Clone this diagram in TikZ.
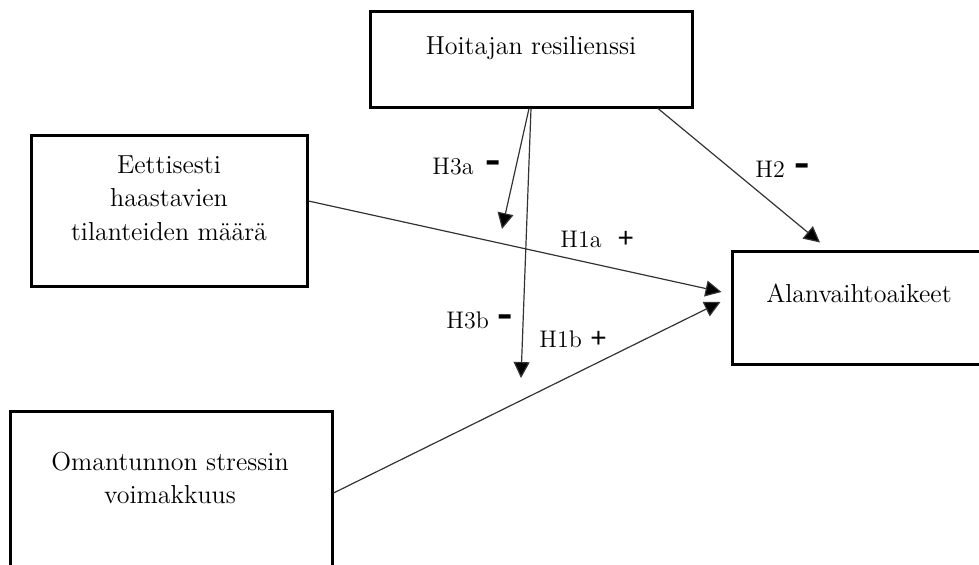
\documentclass[tikz,border=0pt]{standalone}
\usepackage{fontspec}
\newfontfamily\signfont{Liberation Sans}
\usetikzlibrary{arrows.meta}
\newcommand\mysminus{\scalebox{1}[1.8]{\signfont\bfseries –}}
\newcommand\mysplus{{\signfont\fontsize{14}{14}\selectfont +}}
\begin{document}
\begin{tikzpicture}[x=0.5pt,y=-0.5pt,
  box/.style={draw, line width=1.5pt, inner sep=0pt},
  txt/.style={font=\fontsize{13}{16.75}\selectfont, inner sep=0pt, align=center, anchor=base},
  lbl/.style={font=\fontsize{12}{14}\selectfont, inner sep=0pt, anchor=base west},
  conn/.style={line width=0.6pt, draw=black!80, -{Triangle[length=8pt,width=8pt,fill=black]}},
  plainline/.style={line width=0.6pt, draw=black!80}]
\useasboundingbox (0,0) rectangle (979,564);
% boxes
\node[box, minimum width=161pt, minimum height=48pt] (res) at (531,59) {};
\node[box, minimum width=138pt, minimum height=75.5pt] (eth) at (169,210.5) {};
\node[box, minimum width=161pt, minimum height=84.5pt] (str) at (171,495.5) {};
\node[box, minimum width=127pt, minimum height=56.5pt] (alt) at (859,307.5) {};
% texts (anchor base = baseline of the last line)
\node[txt] (resT) at (531,54) {Hoitajan resilienssi};
\node[txt] (ethT) at (169,240) {Eettisesti\\haastavien\\tilanteiden määrä};
\node[txt, font=\fontsize{13}{16.5}\selectfont] (strT) at (170,503) {Omantunnon stressin\\voimakkuus};
\node[txt] (altT) at (859,302) {Alanvaihtoaikeet};
% free ends
\coordinate (h3aEnd) at (502,229);
\coordinate (h3bEnd) at (521,378);
% connectors
\draw[conn] ([xshift=63.5pt]res.south) -- ([xshift=-19.5pt,yshift=3.5pt]alt.north);
\draw[conn] ([yshift=4.75pt]eth.east) -- ([xshift=-4.5pt,yshift=7.75pt]alt.west);
\draw[conn] ([yshift=1.25pt]str.east) -- ([xshift=-5pt,yshift=2.75pt]alt.west);
\draw[conn] ([xshift=-1pt]res.south) -- (h3aEnd);
\draw[conn] ([xshift=0pt]res.south) -- (h3bEnd);
% labels
\node[lbl] (lH3a) at (432,174) {H3a\hspace{6.5pt}\mysminus};
\node[lbl] (lH2) at (755,177) {H2\hspace{5.5pt}\mysminus};
\node[lbl] (lH1a) at (560,247) {H1a\hspace{8pt}\mysplus};
\node[lbl] (lH3b) at (446,328) {H3b\hspace{5pt}\mysminus};
\node[lbl] (lH1b) at (539,347) {H1b\hspace{4.3pt}\mysplus};
\end{tikzpicture}
\end{document}
